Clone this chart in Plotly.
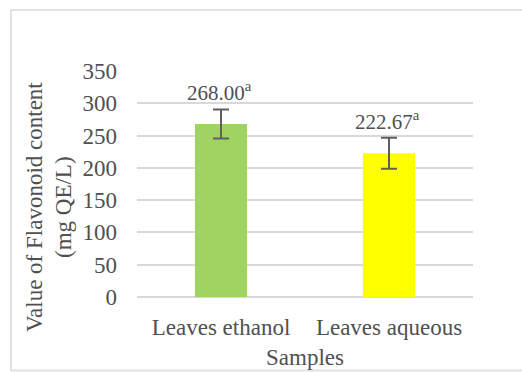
import plotly.graph_objects as go

# Flavonoid content per extract
samples = ["Leaves ethanol", "Leaves aqueous"]
flavonoid = [268.00, 222.67]
std_err = [22.5, 24.0]
letters = ["a", "a"]
bar_colors = ["#A0D462", "#FFFF00"]
y_ticks = [0, 50, 100, 150, 200, 250, 300, 350]

FONT = "Liberation Serif, Times New Roman, serif"
TXT = "#505050"
FS = 23

fig = go.Figure()
fig.add_trace(go.Bar(
    x=samples,
    y=flavonoid,
    marker=dict(color=bar_colors, line=dict(width=0)),
    error_y=dict(type="data", array=std_err, visible=True,
                 color="#5f5f5f", thickness=2, width=8),
    width=0.31,
    hoverinfo="skip",
))

# Value labels above the error bars
for s, v, e, l in zip(samples, flavonoid, std_err, letters):
    fig.add_annotation(
        x=s, y=v + e, xref="x", yref="y",
        text=f"{v:.2f}<sup>{l}</sup>",
        showarrow=False, yanchor="bottom", yshift=2, xshift=-2,
        font=dict(family=FONT, size=21, color=TXT),
    )

# Two-line vertical axis title
W, H = 522, 372
L, R, T, B = 137, 49, 71, 75
pw, ph = W - L - R, H - T - B

def px_x(px):
    return (px - L) / pw

def px_y(py):
    return (H - B - py) / ph

for line, cx in [("Value of Flavonoid content", 34), ("(mg QE/L)", 63)]:
    fig.add_annotation(
        x=px_x(cx), y=px_y(207), xref="paper", yref="paper",
        text=line, textangle=-90, showarrow=False,
        xanchor="center", yanchor="middle",
        font=dict(family=FONT, size=FS, color=TXT),
    )

# Outer chart frame
fig.add_shape(type="rect", xref="paper", yref="paper",
              x0=px_x(11), x1=px_x(530), y0=px_y(370.5), y1=px_y(10),
              line=dict(color="#e2e2e2", width=2), fillcolor="rgba(0,0,0,0)",
              layer="below")

fig.update_layout(
    width=W, height=H,
    margin=dict(l=L, r=R, t=T, b=B),
    paper_bgcolor="white", plot_bgcolor="white",
    showlegend=False,
    font=dict(family=FONT, size=FS, color=TXT),
    xaxis=dict(
        title=dict(text="Samples", font=dict(family=FONT, size=FS, color=TXT), standoff=9),
        showgrid=False, zeroline=False, showline=False, ticks="",
        tickfont=dict(family=FONT, size=FS, color=TXT),
        ticklabelstandoff=14, automargin=False,
        fixedrange=True,
    ),
    yaxis=dict(
        range=[0, 350], tickvals=y_ticks,
        showgrid=True, gridcolor="#d9d9d9", gridwidth=1.5,
        zeroline=True, zerolinecolor="#d9d9d9", zerolinewidth=1.5,
        showline=False, ticks="", ticklabelstandoff=19, automargin=False,
        tickfont=dict(family=FONT, size=FS, color=TXT),
        fixedrange=True,
    ),
)

fig.write_html("out.html")
